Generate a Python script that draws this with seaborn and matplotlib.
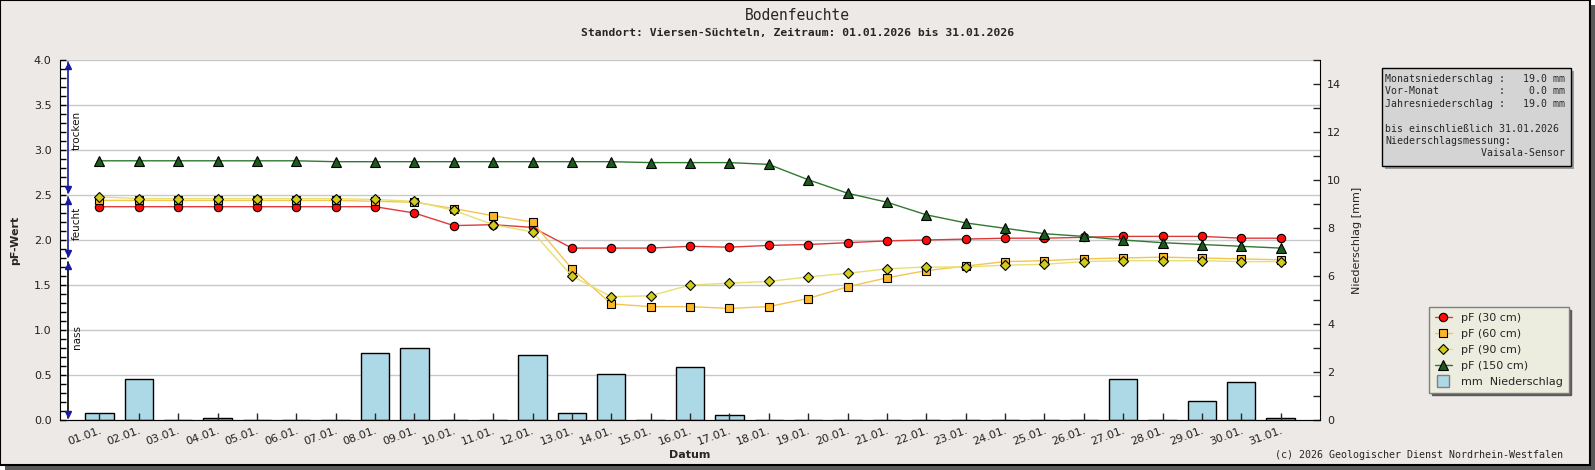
import seaborn as sns
import pandas as pd
import matplotlib.pyplot as plt
from matplotlib.lines import Line2D
from matplotlib.patches import Rectangle
from matplotlib.ticker import MultipleLocator, FormatStrFormatter
from matplotlib.transforms import blended_transform_factory

# Tageswerte Januar 2026
tage = list(range(31))
datum = ["01.01.", "02.01.", "03.01.", "04.01.", "05.01.", "06.01.", "07.01.", "08.01.",
         "09.01.", "10.01.", "11.01.", "12.01.", "13.01.", "14.01.", "15.01.", "16.01.",
         "17.01.", "18.01.", "19.01.", "20.01.", "21.01.", "22.01.", "23.01.", "24.01.",
         "25.01.", "26.01.", "27.01.", "28.01.", "29.01.", "30.01.", "31.01."]

pf_30 = [2.37, 2.37, 2.37, 2.37, 2.37, 2.37, 2.37, 2.37, 2.30, 2.16,
         2.17, 2.14, 1.91, 1.91, 1.91, 1.93, 1.92, 1.94, 1.95, 1.97,
         1.99, 2.00, 2.01, 2.02, 2.02, 2.03, 2.04, 2.04, 2.04, 2.02, 2.02]
pf_60 = [2.44, 2.44, 2.44, 2.44, 2.44, 2.44, 2.44, 2.43, 2.42, 2.35,
         2.27, 2.20, 1.68, 1.29, 1.26, 1.26, 1.24, 1.26, 1.35, 1.48,
         1.58, 1.66, 1.71, 1.76, 1.77, 1.79, 1.80, 1.81, 1.80, 1.79, 1.78]
pf_90 = [2.48, 2.46, 2.46, 2.46, 2.46, 2.46, 2.46, 2.45, 2.43, 2.33,
         2.17, 2.09, 1.60, 1.37, 1.38, 1.50, 1.52, 1.54, 1.59, 1.63,
         1.68, 1.70, 1.70, 1.72, 1.73, 1.76, 1.77, 1.77, 1.77, 1.76, 1.76]
pf_150 = [2.88, 2.88, 2.88, 2.88, 2.88, 2.88, 2.87, 2.87, 2.87, 2.87,
          2.87, 2.87, 2.87, 2.87, 2.86, 2.86, 2.86, 2.84, 2.67, 2.52,
          2.42, 2.28, 2.19, 2.13, 2.07, 2.04, 2.00, 1.97, 1.95, 1.93, 1.91]
niederschlag = [0.3, 1.7, 0.0, 0.1, 0.0, 0.0, 0.0, 2.8, 3.0, 0.0,
                0.0, 2.7, 0.3, 1.9, 0.0, 2.2, 0.2, 0.0, 0.0, 0.0,
                0.0, 0.0, 0.0, 0.0, 0.0, 0.0, 1.7, 0.0, 0.8, 1.6, 0.1]

df = pd.DataFrame({"tag": tage, "pf30": pf_30, "pf60": pf_60, "pf90": pf_90,
                   "pf150": pf_150, "mm": niederschlag})

# Stufen am linken Rand
stufen = [("trocken", 2.52, 3.98, "#1a1aa0", 3.22),
          ("feucht", 1.81, 2.48, "#1a1aa0", 2.18),
          ("nass", 0.02, 1.76, "black", 0.92)]

W, H = 1595, 470
BG = "#ECE9E7"

sns.set_style("ticks")
plt.rcParams["font.family"] = ["DejaVu Sans"]

fig = plt.figure(figsize=(W / 100, H / 100), dpi=100, facecolor="white")


def fx(x):
    return x / W


def fy(y):
    return 1 - y / H


# Rahmen mit Schatten
fig.add_artist(Rectangle((fx(5), 0), fx(1590), 465 / H, transform=fig.transFigure,
                         facecolor="#5a5a5a", edgecolor="none", zorder=-10))
fig.add_artist(Rectangle((0, fy(465)), fx(1590), 465 / H, transform=fig.transFigure,
                         facecolor=BG, edgecolor="black", linewidth=1.5, zorder=-9))

ax = fig.add_axes([fx(60), fy(420), fx(1320 - 60), (420 - 60) / H])
ax2 = ax.twinx()
ax.set_zorder(2)
ax2.set_zorder(1)
ax.patch.set_visible(False)
ax2.patch.set_visible(True)
ax2.patch.set_facecolor("white")

# Gitterlinien hinter den Balken
grid_tr = blended_transform_factory(ax2.transAxes, ax.transData)
for v in [0.5, 1.0, 1.5, 2.0, 2.5, 3.0, 3.5, 4.0]:
    ax2.plot([0, 1], [v, v], transform=grid_tr, color="#c8c8c8", lw=1, zorder=0)

# Niederschlag
sns.barplot(data=df, x="tag", y="mm", native_scale=True, width=0.72,
            color="#ADD8E6", saturation=1, edgecolor="black", linewidth=1.0,
            ax=ax2, zorder=2)

# pF-Kurven
reihen = [("pf30", "pF (30 cm)", "#e03a3a", "#ff0a0a", "o", 6),
          ("pf60", "pF (60 cm)", "#f4c550", "#fbb527", "s", 5.5),
          ("pf90", "pF (90 cm)", "#e6e070", "#d0cc1c", "D", 5),
          ("pf150", "pF (150 cm)", "#2f7a2f", "#1d5a1d", "^", 6.5)]
handles = []
for col, lab, lc, mc, mk, ms in reihen:
    sns.lineplot(data=df, x="tag", y=col, ax=ax, color=lc, linewidth=1.0,
                 marker=mk, markersize=ms, markerfacecolor=mc,
                 markeredgecolor="black", markeredgewidth=0.8)
    handles.append(Line2D([0], [0], color=lc, lw=1.0, marker=mk, markersize=ms,
                          markerfacecolor=mc, markeredgecolor="black",
                          markeredgewidth=0.8, label=lab))
handles.append(Line2D([0], [0], lw=0, marker="s", markersize=9,
                      markerfacecolor="#ADD8E6", markeredgecolor="#808080",
                      label="mm  Niederschlag"))

ax.set_xlim(-1, 31)
ax.set_ylim(0, 4)
ax2.set_ylim(0, 15)

ax.set_xticks(tage)
ax.set_xticklabels(datum, rotation=20, ha="right", rotation_mode="anchor", fontsize=8)
ax.yaxis.set_major_locator(MultipleLocator(0.5))
ax.yaxis.set_minor_locator(MultipleLocator(0.1))
ax.yaxis.set_major_formatter(FormatStrFormatter("%.1f"))
ax2.yaxis.set_major_locator(MultipleLocator(2))
ax2.yaxis.set_minor_locator(MultipleLocator(1))

ax.tick_params(axis="y", which="both", direction="in", length=4, width=1,
               labelsize=8, pad=6, colors="black", labelcolor="#222222")
ax.tick_params(axis="x", direction="in", length=5, width=1, pad=4, labelcolor="#222222")
ax2.tick_params(axis="y", which="both", direction="in", length=5, width=1,
                labelsize=8, pad=5, labelcolor="#222222")

for a in (ax, ax2):
    a.spines["top"].set_visible(False)
ax.spines["right"].set_visible(False)
ax2.spines["left"].set_visible(False)
ax.spines["left"].set_color("black")
ax.spines["bottom"].set_color("black")
ax2.spines["right"].set_color("black")

ax.set_ylabel("pF-Wert", fontsize=8, fontweight="bold", labelpad=10)
ax.set_xlabel("Datum", fontsize=8, fontweight="bold", labelpad=2)
ax2.set_ylabel("Niederschlag [mm]", fontsize=8, labelpad=8)

# Pfeile trocken / feucht / nass
arr_tr = blended_transform_factory(ax.transAxes, ax.transData)
xa = (68 - 60) / (1320 - 60)
for txt, lo, hi, farbe, ytxt in stufen:
    ax.plot([xa, xa], [lo, hi], transform=arr_tr, color=farbe, lw=1.2, clip_on=False)
    ax.plot([xa], [hi - 0.05], transform=arr_tr, marker="^", color="#1a1aa0",
            markersize=5, lw=0, clip_on=False)
    ax.plot([xa], [lo + 0.05], transform=arr_tr, marker="v", color="#1a1aa0",
            markersize=5, lw=0, clip_on=False)
    ax.text(xa + 0.007, ytxt, txt, transform=arr_tr, rotation=90, fontsize=7.5,
            ha="center", va="center", color="#111111")

# Titel
fig.text(0.5, fy(15), "Bodenfeuchte", ha="center", va="center",
         family="DejaVu Sans Mono", fontsize=10.5)
fig.text(0.5, fy(33), "Standort: Viersen-Süchteln, Zeitraum: 01.01.2026 bis 31.01.2026",
         ha="center", va="center", family="DejaVu Sans Mono", fontsize=8.2,
         fontweight="bold")

# Infokasten
fig.add_artist(Rectangle((fx(1385), fy(169)), fx(189), 98 / H, transform=fig.transFigure,
                         facecolor="#9a9a9a", edgecolor="none"))
fig.add_artist(Rectangle((fx(1382), fy(166)), fx(189), 98 / H, transform=fig.transFigure,
                         facecolor="#d4d4d4", edgecolor="black", linewidth=1))
info = ("Monatsniederschlag :   19.0 mm\n"
        "Vor-Monat          :    0.0 mm\n"
        "Jahresniederschlag :   19.0 mm\n"
        "\n"
        "bis einschließlich 31.01.2026\n"
        "Niederschlagsmessung:\n"
        "                Vaisala-Sensor")
fig.text(fx(1385), fy(74), info, ha="left", va="top", family="DejaVu Sans Mono",
         fontsize=7.1, linespacing=1.3)

# Legende
leg = fig.legend(handles=handles, loc="upper left", bbox_to_anchor=(fx(1429), fy(307)),
                 borderaxespad=0, fontsize=8, frameon=True, fancybox=False,
                 shadow={"color": "#5a5a5a", "alpha": 1}, labelspacing=0.55,
                 handlelength=1.6, handletextpad=0.8, borderpad=0.5)
leg.get_frame().set_facecolor("#ececdf")
leg.get_frame().set_edgecolor("#808080")
leg.get_frame().set_alpha(1)

fig.text(fx(1563), fy(455), "(c) 2026 Geologischer Dienst Nordrhein-Westfalen",
         ha="right", va="center", family="DejaVu Sans Mono", fontsize=7.2)

fig.savefig("out.png", dpi=100, facecolor=fig.get_facecolor())
